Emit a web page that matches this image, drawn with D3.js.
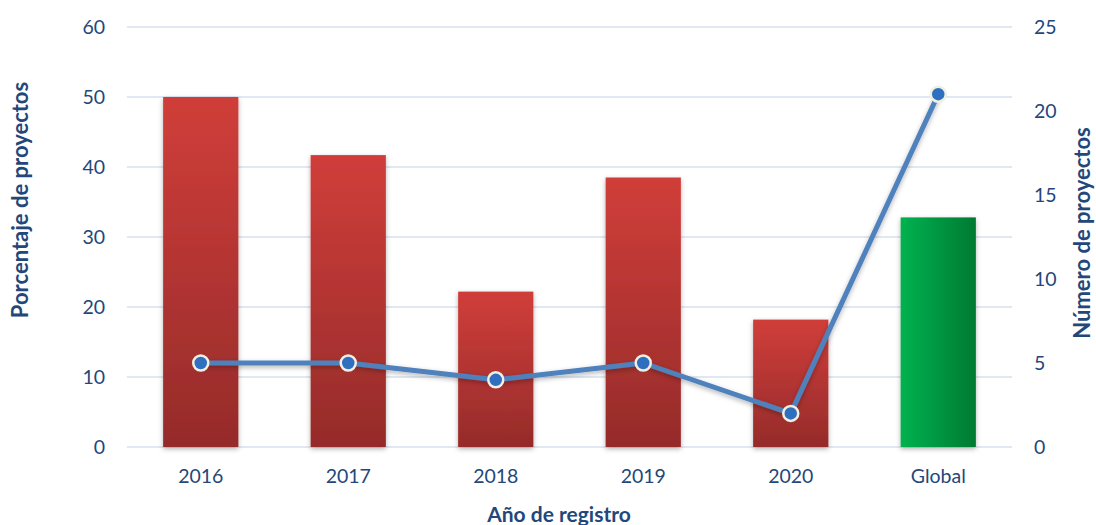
<!DOCTYPE html>
<html>
<head>
<meta charset="utf-8">
<script src="https://cdn.jsdelivr.net/npm/d3@7"></script>
<style>
  body { margin: 0; background: #fff; }
  svg text { font-family: Lato, "Open Sans", sans-serif; fill: #24477a; }
</style>
</head>
<body>
<div id="chart"></div>
<script>
// data
var categories = ["2016", "2017", "2018", "2019", "2020", "Global"];
var percentages = [50, 41.7, 22.2, 38.5, 18.2, 32.8];
var counts = [5, 5, 4, 5, 2, 21];
var leftTicks = [0, 10, 20, 30, 40, 50, 60];
var rightTicks = [0, 5, 10, 15, 20, 25];

var width = 1096, height = 525;
var margin = {top: 27, right: 84, bottom: 78, left: 127};
var plotW = width - margin.left - margin.right;
var plotH = height - margin.top - margin.bottom;

var svg = d3.select("#chart").append("svg")
    .attr("width", width)
    .attr("height", height);

var defs = svg.append("defs");

var red = defs.append("linearGradient").attr("id", "redGrad")
    .attr("x1", 0).attr("y1", 0).attr("x2", 0).attr("y2", 1);
red.append("stop").attr("offset", "0%").attr("stop-color", "#d03e3a");
red.append("stop").attr("offset", "100%").attr("stop-color", "#952b2a");

var green = defs.append("linearGradient").attr("id", "greenGrad")
    .attr("x1", 0).attr("y1", 0).attr("x2", 1).attr("y2", 0);
green.append("stop").attr("offset", "0%").attr("stop-color", "#00b24f");
green.append("stop").attr("offset", "100%").attr("stop-color", "#007a32");

var shadow = defs.append("filter").attr("id", "shadow")
    .attr("x", "-20%").attr("y", "-20%").attr("width", "140%").attr("height", "140%");
shadow.append("feDropShadow")
    .attr("dx", 0).attr("dy", 2).attr("stdDeviation", 2.5)
    .attr("flood-color", "#000").attr("flood-opacity", 0.3);

var g = svg.append("g").attr("transform", "translate(" + margin.left + "," + margin.top + ")");

var x = d3.scaleBand().domain(categories).range([0, plotW]).paddingInner(0.49).paddingOuter(0.245);
var yL = d3.scaleLinear().domain([0, 60]).range([plotH, 0]);
var yR = d3.scaleLinear().domain([0, 25]).range([plotH, 0]);

// gridlines
g.selectAll(".grid").data(leftTicks).enter().append("line")
    .attr("x1", 0).attr("x2", plotW)
    .attr("y1", d => yL(d)).attr("y2", d => yL(d))
    .attr("stroke", "#d6e1ef").attr("stroke-width", 1.5);

// left axis
var axL = g.append("g").call(d3.axisLeft(yL).tickValues(leftTicks).tickSize(0).tickPadding(22));
axL.select(".domain").remove();
axL.selectAll("text").attr("font-size", 19.5).style("fill", "#24477a");

// right axis
var axR = g.append("g").attr("transform", "translate(" + plotW + ",0)")
    .call(d3.axisRight(yR).tickValues(rightTicks).tickSize(0).tickPadding(22));
axR.select(".domain").remove();
axR.selectAll("text").attr("font-size", 19.5).style("fill", "#24477a");

// bottom axis
var axB = g.append("g").attr("transform", "translate(0," + plotH + ")")
    .call(d3.axisBottom(x).tickSize(0).tickPadding(22));
axB.select(".domain").remove();
axB.selectAll("text").attr("font-size", 19.5).style("fill", "#24477a");

// bars
g.selectAll(".bar").data(categories).enter().append("rect")
    .attr("x", d => x(d))
    .attr("width", x.bandwidth())
    .attr("y", (d, i) => yL(percentages[i]))
    .attr("height", (d, i) => plotH - yL(percentages[i]))
    .attr("fill", d => d === "Global" ? "url(#greenGrad)" : "url(#redGrad)")
    .attr("filter", "url(#shadow)");

// line
var line = d3.line()
    .x((d, i) => x(categories[i]) + x.bandwidth() / 2)
    .y(d => yR(d));

g.append("path").datum(counts)
    .attr("d", line)
    .attr("fill", "none")
    .attr("stroke", "#4f81bd")
    .attr("stroke-width", 5)
    .attr("stroke-linejoin", "round")
    .attr("filter", "url(#shadow)");

g.selectAll(".dot").data(counts).enter().append("circle")
    .attr("cx", (d, i) => x(categories[i]) + x.bandwidth() / 2)
    .attr("cy", d => yR(d))
    .attr("r", 7.5)
    .attr("fill", "#2f6fbf")
    .attr("stroke", "#f1eee2")
    .attr("stroke-width", 2.5);

// axis titles
svg.append("text")
    .attr("transform", "translate(28,200) rotate(-90)")
    .attr("text-anchor", "middle")
    .attr("font-size", 22).attr("font-weight", "bold")
    .text("Porcentaje de proyectos");

svg.append("text")
    .attr("transform", "translate(1090,233) rotate(-90)")
    .attr("text-anchor", "middle")
    .attr("font-size", 22).attr("font-weight", "bold")
    .text("Número de proyectos");

svg.append("text")
    .attr("x", 559).attr("y", 522)
    .attr("text-anchor", "middle")
    .attr("font-size", 21).attr("font-weight", "bold")
    .text("Año de registro");
</script>
</body>
</html>
